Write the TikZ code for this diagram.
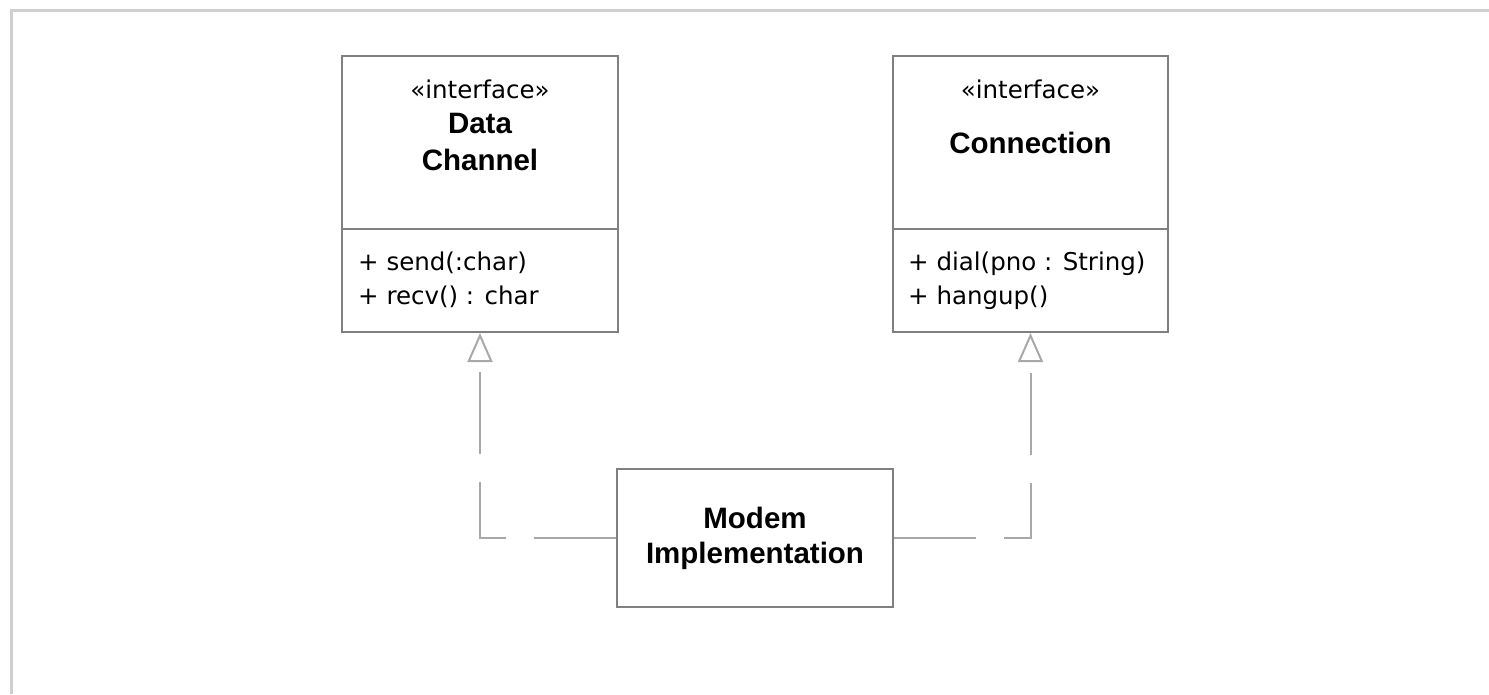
\documentclass[tikz,border=0pt]{standalone}
\usepackage{fontspec}
\setmainfont{DejaVu Sans}
\newfontfamily\titlefont{Liberation Sans}
\usetikzlibrary{arrows.meta}

\definecolor{boxgrey}{HTML}{808080}
\definecolor{linkgrey}{HTML}{A8A8A8}
\definecolor{framegrey}{HTML}{CFCFCF}

\begin{document}
\begin{tikzpicture}[x=1pt,y=-1pt,
  classbox/.style={draw=boxgrey, line width=2pt, inner sep=0pt},
  stereo/.style={anchor=base, inner sep=0pt, font=\fontsize{24.5}{29}\selectfont},
  classname/.style={anchor=base, inner sep=0pt, font=\titlefont\bfseries\fontsize{29.5}{35}\selectfont},
  member/.style={anchor=base west, inner sep=0pt, font=\fontsize{24.5}{29}\selectfont},
  divider/.style={draw=boxgrey, line width=2pt},
  realize/.style={draw=linkgrey, line width=2pt, dash pattern=on 82pt off 28pt,
    -{Triangle[open, length=29pt, width=25pt, fill=white]}},
]
\useasboundingbox (0,0) rectangle (1489,694);

% outer frame (top and left edges)
\coordinate (frameTR) at (1489,10);
\coordinate (frameTL) at (11,10);
\coordinate (frameBL) at (11,694);
\draw[framegrey, line width=3pt] (frameTR) -- (frameTL) -- (frameBL);

% interface DataChannel
\node[classbox, minimum width=276pt, minimum height=276pt] (dc) at (480,194) {};
\coordinate (dcdiv) at (0,229);
\draw[divider] (dc.west |- dcdiv) -- (dc.east |- dcdiv);
\node[stereo] (dcst) at (480,98) {«interface»};
\node[classname] (dcna) at (480,133) {Data};
\node[classname] (dcnb) at (480,170) {Channel};
\node[member] (dcm1) at (358,270) {+ send(:char)};
\node[member] (dcm2) at (358,304) {+ recv() : char};

% interface Connection
\node[classbox, minimum width=275pt, minimum height=276pt] (conn) at (1030.5,194) {};
\coordinate (conndiv) at (0,229);
\draw[divider] (conn.west |- conndiv) -- (conn.east |- conndiv);
\node[stereo] (connst) at (1030.5,98) {«interface»};
\node[classname] (connna) at (1030.5,153) {Connection};
\node[member] (connm1) at (908,270) {+ dial(pno : String)};
\node[member] (connm2) at (908,304) {+ hangup()};

% implementing class
\node[classbox, minimum width=276pt, minimum height=138pt] (modem) at (755,538) {};
\node[classname] (modemna) at (755,528) {Modem};
\node[classname] (modemnb) at (755,563) {Implementation};

% realization connectors
\draw[realize] (modem.west) -| (dc.south);
\draw[realize] (modem.east) -| (conn.south);
\end{tikzpicture}
\end{document}
